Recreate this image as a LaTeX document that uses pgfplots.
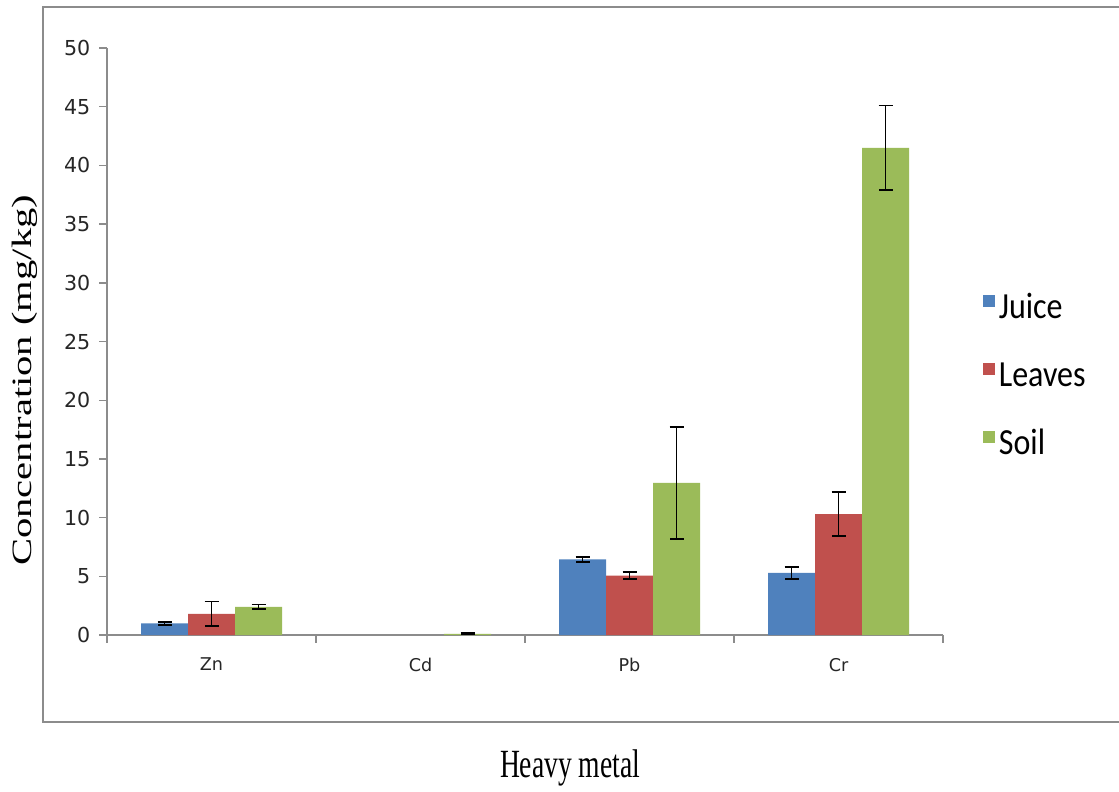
\documentclass[border=0pt]{standalone}
\usepackage{pgfplots}
\pgfplotsset{compat=1.18}
\usepackage{fontspec}
\setmainfont{Liberation Serif}
\newfontfamily\verd{DejaVu Sans}
\newfontfamily\calib{Carlito}
\definecolor{cJ}{HTML}{4F81BD}
\definecolor{cL}{HTML}{C0504D}
\definecolor{cS}{HTML}{9BBB59}
\definecolor{axgray}{HTML}{8C8C8C}
\begin{document}
\begin{tikzpicture}
\begin{axis}[
  scale only axis, width=418pt, height=293.5pt,
  xmin=0, xmax=4, ymin=0, ymax=50,
  axis x line=bottom, axis y line=left,
  axis line style={-, axgray, line width=0.9pt},
  tick align=outside,
  ybar=0pt, bar width=23.5pt,
  ytick={0,5,...,50},
  major tick length=3.8pt,
  tick style={axgray, line width=0.7pt},
  xtick={0,1,2,3,4}, xticklabels={},
  extra x ticks={0.5,1.5,2.5,3.5}, extra x tick labels={Zn,Cd,Pb,Cr},
  extra x tick style={major tick length=0pt},
  yticklabel style={font=\verd\fontsize{10.3}{11}\selectfont, xshift=-1pt, text=black!85},
  xticklabel style={font=\verd\fontsize{8.8}{9}\selectfont, yshift=-8pt, text=black!85},
  /pgf/number format/assume math mode=true,
  clip=false,
  legend style={draw=none, at={(rel axis cs:1.04,0.595)}, anchor=north west,
    font=\calib\fontsize{16}{16}\selectfont,
    nodes={text height=12pt, text depth=3pt, inner xsep=2pt}, row sep=15pt},
  legend cell align=left,
  legend image code/.code={\fill[#1, draw=none] (0pt,1pt) rectangle (6pt,7pt);},
  error bars/y dir=both, error bars/y explicit,
  error bars/error bar style={black, line width=0.9pt},
  error bars/error mark options={rotate=90, mark size=3.5pt, black, line width=0.9pt},
]
\addplot[fill=cJ, draw=none] table[x=x, y=y, y error=e] {
x y e
0.5 1.0 0.12
2.5 6.45 0.2
3.5 5.3 0.5
};
\addplot[fill=cL, draw=none] table[x=x, y=y, y error=e] {
x y e
0.5 1.8 1.05
2.5 5.05 0.3
3.5 10.3 1.85
};
\addplot[fill=cS, draw=none] table[x=x, y=y, y error=e] {
x y e
0.5 2.4 0.2
1.5 0.1 0.05
2.5 12.95 4.8
3.5 41.5 3.6
};
\legend{\scalebox{1}[1.15]{Juice},\scalebox{1}[1.15]{Leaves},\scalebox{1}[1.15]{Soil}}
\draw[axgray, line width=0.9pt] (rel axis cs:1.215,1.070) -- (rel axis cs:-0.0766,1.070) -- (rel axis cs:-0.0766,-0.148) -- (rel axis cs:1.215,-0.148);
\node[rotate=90, font=\fontsize{14}{14}\selectfont] at (rel axis cs:-0.098,0.434) {\scalebox{1.45}[1]{Concentration (mg/kg)}};
\node[font=\fontsize{13.8}{14}\selectfont] at (rel axis cs:0.554,-0.2266) {\scalebox{1}[1.45]{Heavy metal}};
\coordinate (bbsw) at (rel axis cs:-0.128,-0.2658);
\coordinate (bbne) at (rel axis cs:1.2105,1.0818);
\end{axis}
\pgfresetboundingbox
\path[use as bounding box] (bbsw) rectangle (bbne);
\end{tikzpicture}
\end{document}
